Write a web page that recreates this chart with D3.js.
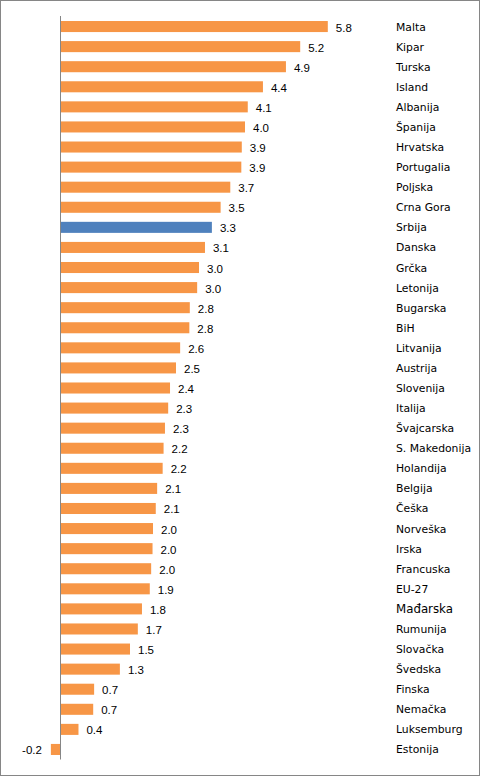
<!DOCTYPE html>
<html>
<head>
<meta charset="utf-8">
<script src="https://cdn.jsdelivr.net/npm/d3@7"></script>
<style>
  body { margin: 0; background: #fff; }
</style>
</head>
<body>
<div id="chart"></div>
<script>
// chart data (labels show one decimal)
const countries = ['Malta', 'Kipar', 'Turska', 'Island', 'Albanija', 'Španija', 'Hrvatska', 'Portugalia',
    'Poljska', 'Crna Gora', 'Srbija', 'Danska', 'Grčka', 'Letonija', 'Bugarska', 'BiH', 'Litvanija',
    'Austrija', 'Slovenija', 'Italija', 'Švajcarska', 'S. Makedonija', 'Holandija', 'Belgija', 'Češka',
    'Norveška', 'Irska', 'Francuska', 'EU-27', 'Mađarska', 'Rumunija', 'Slovačka', 'Švedska', 'Finska',
    'Nemačka', 'Luksemburg', 'Estonija'];
const values = [5.80, 5.20, 4.89, 4.39, 4.06, 4.00, 3.93, 3.92,
    3.68, 3.47, 3.28, 3.13, 3.00, 2.96, 2.80, 2.79, 2.59,
    2.50, 2.37, 2.33, 2.26, 2.23, 2.21, 2.09, 2.06,
    2.00, 1.99, 1.96, 1.93, 1.76, 1.67, 1.50, 1.28, 0.72,
    0.70, 0.38, -0.22];
const highlighted = ['Srbija'];

// graphic dimensions
const graphicWidth = 481;
const graphicHeight = 777;

const data = countries.map((c, i) => ({country: c, value: values[i]}));

const svg = d3.select('#chart')
    .append('svg')
    .attr('width', graphicWidth)
    .attr('height', graphicHeight);

// outer frame
svg.append('rect')
    .attr('x', 0.5)
    .attr('y', 0.5)
    .attr('width', 479)
    .attr('height', 775)
    .attr('fill', '#fff')
    .attr('stroke', '#868686')
    .attr('stroke-width', 1);

// scales
const x = d3.scaleLinear()
    .domain([0, 5.8])
    .range([61, 61 + 5.8 * 46]);

const y = d3.scaleBand()
    .domain(countries)
    .range([16.5, 759.5])
    .paddingInner(0.45)
    .paddingOuter(0.225);

// bars
svg.append('g')
    .selectAll('rect')
    .data(data)
    .join('rect')
    .attr('x', d => x(Math.min(0, d.value)))
    .attr('y', d => y(d.country))
    .attr('width', d => Math.abs(x(d.value) - x(0)))
    .attr('height', y.bandwidth())
    .attr('fill', d => highlighted.includes(d.country) ? '#4F81BD' : '#F79646');

// vertical axis line (no ticks)
svg.append('line')
    .attr('x1', x(0) - 0.5)
    .attr('x2', x(0) - 0.5)
    .attr('y1', 16)
    .attr('y2', 759.5)
    .attr('stroke', '#868686')
    .attr('stroke-width', 1);

// value labels (plain hyphen for the minus, like the original)
svg.append('g')
    .selectAll('text')
    .data(data)
    .join('text')
    .attr('x', d => d.value >= 0 ? x(d.value) + 8 : x(d.value) - 9)
    .attr('y', d => y(d.country) + y.bandwidth() / 2 + 5)
    .attr('text-anchor', d => d.value >= 0 ? 'start' : 'end')
    .attr('font-family', 'Liberation Sans, Arial, sans-serif')
    .attr('font-size', '11.5px')
    .attr('fill', '#000')
    .text(d => d.value.toFixed(1));

// category labels on the right
svg.append('g')
    .selectAll('text')
    .data(data)
    .join('text')
    .attr('x', 396)
    .attr('y', d => y(d.country) + y.bandwidth() / 2 + 4)
    .attr('font-family', 'DejaVu Sans, Verdana, sans-serif')
    .attr('font-size', d => d.country === 'Mađarska' ? '11.8px' : '10.8px')
    .attr('fill', '#000')
    .text(d => d.country);
</script>
</body>
</html>
